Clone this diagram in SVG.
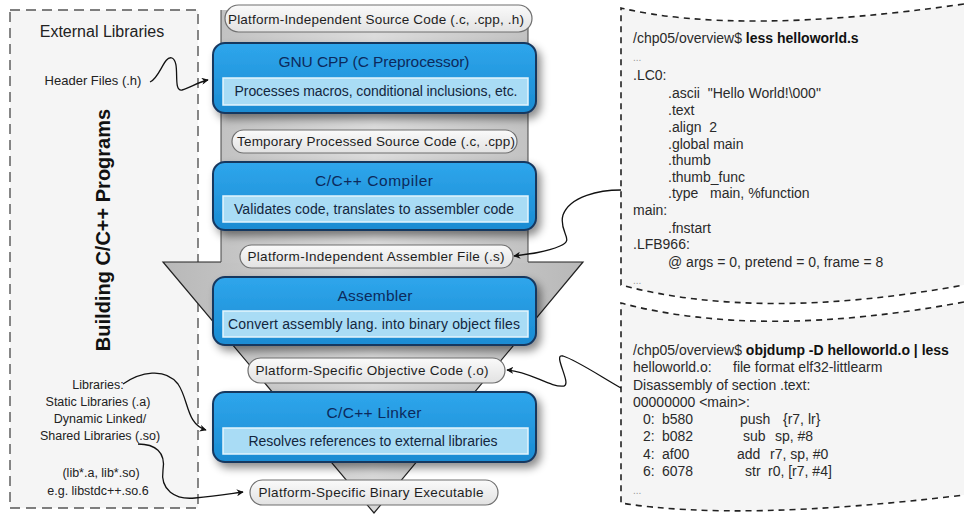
<svg xmlns="http://www.w3.org/2000/svg" width="964" height="517" viewBox="0 0 964 517">
<style>
.box{fill:url(#blueG);stroke:#17375f;stroke-width:2;filter:url(#sh)}
.inner{fill:#a9dcf5;stroke:#e4f5fd;stroke-width:1.5}
.pill{fill:url(#pillG);stroke:#6f6f6f;stroke-width:1.2}
.title{font-family:"Liberation Sans",Arial,sans-serif;font-size:15.5px;fill:#0c2a5c;text-anchor:middle}
.desc{font-family:"Liberation Sans",Arial,sans-serif;font-size:14px;fill:#13263d;text-anchor:middle}
.ptxt{font-family:"Liberation Sans",Arial,sans-serif;font-size:13.5px;fill:#1e1e1e;text-anchor:middle}
.ltxt{font-family:"Liberation Sans",Arial,sans-serif;font-size:12.5px;fill:#222;text-anchor:middle}
.code{font-family:"Liberation Sans",Arial,sans-serif;font-size:14px;fill:#2a2a2a;white-space:pre}
.b{font-weight:bold;fill:#111}
.dots{font-family:"Liberation Sans",Arial,sans-serif;font-size:10px;fill:#999}
.conn{fill:none;stroke:#111;stroke-width:1.3;marker-end:url(#ah)}
.dash{fill:none;stroke:#222;stroke-width:1.6;stroke-dasharray:6 5}
</style>
<defs>
<linearGradient id="blueG" x1="0" y1="0" x2="0" y2="1">
<stop offset="0" stop-color="#2fa6ec"/>
<stop offset="1" stop-color="#1a8bd2"/>
</linearGradient>
<linearGradient id="pillG" x1="0" y1="0" x2="0" y2="1">
<stop offset="0" stop-color="#fafafa"/>
<stop offset="1" stop-color="#e2e2e2"/>
</linearGradient>
<linearGradient id="colG" x1="0" y1="0" x2="1" y2="0">
<stop offset="0" stop-color="#c2c2c2"/>
<stop offset="0.5" stop-color="#dcdcdc"/>
<stop offset="1" stop-color="#c2c2c2"/>
</linearGradient>
<linearGradient id="triG" x1="0" y1="0" x2="1" y2="0">
<stop offset="0" stop-color="#b8b8b8"/>
<stop offset="0.5" stop-color="#d8d8d8"/>
<stop offset="1" stop-color="#b8b8b8"/>
</linearGradient>
<filter id="sh" x="-10%" y="-20%" width="125%" height="150%">
<feDropShadow dx="4" dy="5" stdDeviation="4" flood-color="#000" flood-opacity="0.45"/>
</filter>
<marker id="ah" viewBox="0 0 10 10" refX="9" refY="5" markerWidth="7" markerHeight="7" orient="auto" markerUnits="userSpaceOnUse">
<path d="M0,0 L10,5 L0,10 L3,5 z" fill="#111"/>
</marker>
</defs>
<rect width="964" height="517" fill="#ffffff"/>

<g id="external-libraries-panel">
<rect x="10" y="10" width="188" height="498" fill="#f5f5f5" stroke="#555" stroke-width="1.4" stroke-dasharray="10 6"/>
<text x="102" y="37" class="ltxt" style="font-size:16px">External Libraries</text>
<text x="93" y="85" class="ltxt" style="font-size:13px">Header Files (.h)</text>
<text transform="translate(110,230) rotate(-90)" text-anchor="middle" font-family="Liberation Sans, Arial, sans-serif" font-size="20" font-weight="bold" fill="#111">Building C/C++ Programs</text>
<text x="98" y="389" class="ltxt">Libraries:</text>
<text x="98" y="406" class="ltxt">Static Libraries (.a)</text>
<text x="100" y="423" class="ltxt">Dynamic Linked/</text>
<text x="100" y="440" class="ltxt">Shared Libraries (.so)</text>
<text x="101" y="477" class="ltxt">(lib*.a, lib*.so)</text>
<text x="98" y="495" class="ltxt">e.g. libstdc++.so.6</text>
</g>

<g id="funnel">
<polygon points="163,262 583,262 374,513" fill="url(#triG)" stroke="#222" stroke-width="1.2"/>
<rect x="221" y="10" width="307" height="253" fill="url(#colG)"/>
<line x1="221" y1="10" x2="221" y2="262" stroke="#444" stroke-width="1"/>
<line x1="528" y1="10" x2="528" y2="262" stroke="#444" stroke-width="1"/>
</g>

<g id="source-code">
<rect class="pill" x="225" y="5" width="307" height="27" rx="13.5"/>
<text class="ptxt" x="376" y="24" textLength="296">Platform-Independent Source Code (.c, .cpp, .h)</text>
</g>

<g id="gnu-cpp">
<rect class="box" x="213" y="43" width="323" height="70" rx="12"/>
<rect class="inner" x="223" y="78" width="305" height="27"/>
<text class="title" x="374" y="67" textLength="191">GNU CPP (C Preprocessor)</text>
<text class="desc" x="376" y="96" textLength="283">Processes macros, conditional inclusions, etc.</text>
</g>

<g id="temp-source">
<rect class="pill" x="232" y="130" width="285" height="23" rx="11.5"/>
<text class="ptxt" x="376" y="146" textLength="278">Temporary Processed Source Code (.c, .cpp)</text>
</g>

<g id="compiler">
<rect class="box" x="213" y="162" width="323" height="68" rx="12"/>
<rect class="inner" x="223" y="196" width="305" height="26"/>
<text class="title" x="374" y="186" textLength="118">C/C++ Compiler</text>
<text class="desc" x="374" y="214" textLength="280">Validates code, translates to assembler code</text>
</g>

<g id="assembler-file">
<rect class="pill" x="240" y="245" width="273" height="23" rx="11.5"/>
<text class="ptxt" x="376" y="261" textLength="257">Platform-Independent Assembler File (.s)</text>
</g>

<g id="assembler">
<rect class="box" x="213" y="277" width="323" height="68" rx="12"/>
<rect class="inner" x="223" y="311" width="305" height="26"/>
<text class="title" x="375" y="301" textLength="75">Assembler</text>
<text class="desc" x="374" y="329" textLength="292">Convert assembly lang. into binary object files</text>
</g>

<g id="object-code">
<rect class="pill" x="248" y="358" width="257" height="25" rx="12.5"/>
<text class="ptxt" x="372" y="375" textLength="233">Platform-Specific Objective Code (.o)</text>
</g>

<g id="linker">
<rect class="box" x="213" y="392" width="323" height="70" rx="12"/>
<rect class="inner" x="223" y="428" width="305" height="26"/>
<text class="title" x="374" y="418" textLength="95">C/C++ Linker</text>
<text class="desc" x="373" y="446" textLength="249">Resolves references to external libraries</text>
</g>

<g id="binary">
<rect class="pill" x="250" y="480" width="248" height="25" rx="12.5"/>
<text class="ptxt" x="371" y="497" textLength="225">Platform-Specific Binary Executable</text>
</g>

<g id="assembly-listing">
<path d="M621,8 Q740,36 964,4 L964,285 Q760,322 621,285 Z" fill="#f5f5f5"/>
<path class="dash" d="M964,4 Q740,36 621,8 L621,285 Q760,322 964,285"/>
<text class="code" x="633" y="43">/chp05/overview$ <tspan class="b">less helloworld.s</tspan></text>
<text class="dots" x="633" y="61">...</text>
<text class="code" x="633" y="80">.LC0:</text>
<text class="code" x="668" y="98">.ascii  "Hello World!\000"</text>
<text class="code" x="668" y="115">.text</text>
<text class="code" x="668" y="132">.align  2</text>
<text class="code" x="668" y="149">.global main</text>
<text class="code" x="668" y="165">.thumb</text>
<text class="code" x="668" y="182">.thumb_func</text>
<text class="code" x="668" y="198">.type   main, %function</text>
<text class="code" x="633" y="215">main:</text>
<text class="code" x="668" y="233">.fnstart</text>
<text class="code" x="633" y="249">.LFB966:</text>
<text class="code" x="668" y="267">@ args = 0, pretend = 0, frame = 8</text>
<text class="dots" x="633" y="284">...</text>
</g>

<g id="objdump-listing">
<path d="M621,303 Q760,340 964,302 L964,495 Q740,522 621,503 Z" fill="#f5f5f5"/>
<path class="dash" d="M964,302 Q760,340 621,303 L621,503 Q740,522 964,495"/>
<text class="code" x="633" y="355">/chp05/overview$ <tspan class="b">objdump -D helloworld.o | less</tspan></text>
<text class="code" x="633" y="372">helloworld.o:<tspan x="733">file format elf32-littlearm</tspan></text>
<text class="code" x="633" y="390">Disassembly of section .text:</text>
<text class="code" x="633" y="407">00000000 &lt;main&gt;:</text>
<text class="code" x="643" y="424">0:<tspan x="662">b580</tspan><tspan x="740">push</tspan><tspan x="783">{r7, lr}</tspan></text>
<text class="code" x="643" y="441">2:<tspan x="662">b082</tspan><tspan x="743">sub</tspan><tspan x="775">sp, #8</tspan></text>
<text class="code" x="643" y="459">4:<tspan x="662">af00</tspan><tspan x="737">add</tspan><tspan x="770">r7, sp, #0</tspan></text>
<text class="code" x="643" y="476">6:<tspan x="662">6078</tspan><tspan x="745">str</tspan><tspan x="768">r0, [r7, #4]</tspan></text>
<text class="dots" x="633" y="494">...</text>
</g>

<g id="connectors">
<path class="conn" d="M150,82 C160,78 164,55 172,58 C181,62 172,92 182,90 C190,88 198,82 208,80"/>
<path class="conn" d="M123,384 C140,372 165,367 178,384 C189,400 186,424 206,430"/>
<path class="conn" d="M138,444 C155,444 166,452 163,470 C160,490 175,500 195,498 C215,496 228,494 243,492"/>
<path class="conn" d="M621,190 C600,190 570,196 563,215 C558,232 576,240 560,246 C546,252 530,254 514,256"/>
<path class="conn" d="M621,388 C600,376 576,360 563,356 C552,353 572,384 564,386 C550,388 530,371 507,370"/>
</g>
</svg>
